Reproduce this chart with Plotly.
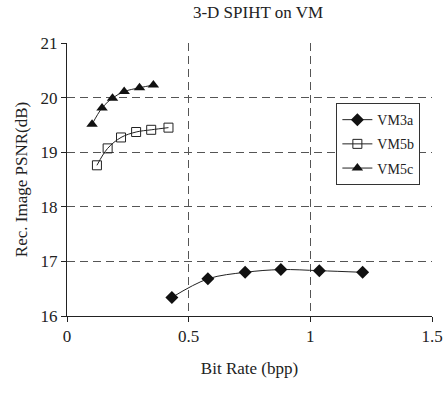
import plotly.graph_objects as go

vm3a_x = [0.431, 0.579, 0.732, 0.879, 1.037, 1.215]
vm3a_y = [16.34, 16.68, 16.80, 16.85, 16.83, 16.80]
vm5b_x = [0.123, 0.167, 0.222, 0.284, 0.346, 0.417]
vm5b_y = [18.76, 19.07, 19.27, 19.37, 19.41, 19.45]
vm5c_x = [0.103, 0.144, 0.187, 0.235, 0.298, 0.355]
vm5c_y = [19.51, 19.81, 19.99, 20.11, 20.18, 20.23]

x_ticks = [0, 0.5, 1, 1.5]
x_labels = ["0", "0.5", "1", "1.5"]
y_ticks = [16, 17, 18, 19, 20, 21]

FONT = "Liberation Serif"
W, H = 444, 394

fig = go.Figure()
fig.add_trace(go.Scatter(x=vm3a_x, y=vm3a_y, name="VM3a", mode="lines+markers",
                         legendgroup="a",
                         line=dict(color="#222222", width=1, shape="spline"),
                         marker=dict(symbol="diamond", size=10, color="#111111")))
fig.add_trace(go.Scatter(x=vm5b_x, y=vm5b_y, name="VM5b", mode="lines+markers",
                         legendgroup="b",
                         line=dict(color="#222222", width=1, shape="spline"),
                         marker=dict(symbol="square-open", size=9, color="#222222",
                                     line=dict(width=1))))
fig.add_trace(go.Scatter(x=vm5c_x, y=vm5c_y, name="VM5c", mode="lines+markers",
                         legendgroup="c",
                         line=dict(color="#222222", width=1, shape="spline"),
                         marker=dict(symbol="triangle-up", size=10, color="#111111")))

fig.update_layout(
    width=W, height=H,
    margin=dict(l=67, r=12, t=43, b=78, autoexpand=False),
    paper_bgcolor="white", plot_bgcolor="white",
    font=dict(family=FONT, size=17, color="#222222"),
    title=dict(text="3-D SPIHT on VM", x=258 / W, xanchor="center",
               y=1 - 12 / H, yanchor="middle", automargin=False,
               font=dict(family=FONT, size=17, color="#222222")),
    showlegend=True,
    legend=dict(x=0.738, y=0.78, xanchor="left", yanchor="top",
                bordercolor="#333333", borderwidth=1, bgcolor="white",
                font=dict(family=FONT, size=14, color="#222222"),
                itemwidth=30, tracegroupgap=3),
)
fig.update_xaxes(range=[0, 1.5], tickvals=x_ticks, ticktext=x_labels,
                 showline=True, linecolor="#222222", linewidth=1,
                 ticks="outside", ticklen=5, tickcolor="#222222",
                 showgrid=True, gridcolor="#555555", griddash="8px,5px", gridwidth=1,
                 zeroline=False, tickfont=dict(family=FONT, size=17), automargin=False,
                 title=dict(text="Bit Rate (bpp)", standoff=16,
                            font=dict(family=FONT, size=17)))
fig.update_yaxes(range=[16, 21], tickvals=y_ticks,
                 showline=True, linecolor="#222222", linewidth=1,
                 ticks="outside", ticklen=5, tickcolor="#222222",
                 showgrid=True, gridcolor="#555555", griddash="8px,5px", gridwidth=1,
                 zeroline=False, tickfont=dict(family=FONT, size=17), automargin=False,
                 title=dict(text="Rec. Image PSNR(dB)", standoff=8,
                            font=dict(family=FONT, size=17)))

fig.write_html("out.html", config={"displayModeBar": False},
               post_script="document.body.style.margin='0';")
